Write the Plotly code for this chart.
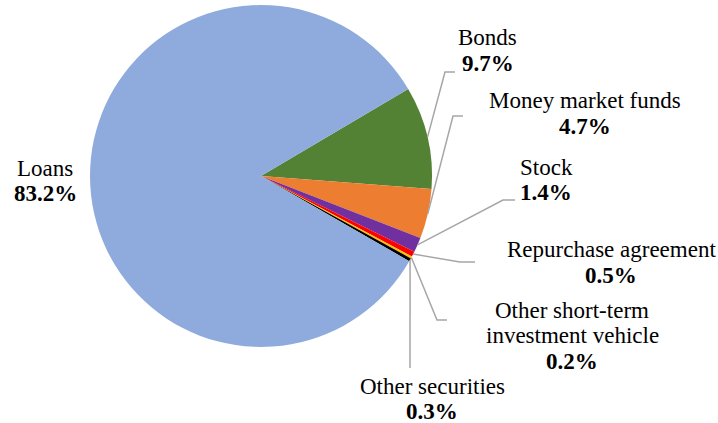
import math
import plotly.graph_objects as go

# Portfolio composition (percent)
categories = ["Bonds", "Money market funds", "Stock", "Repurchase agreement",
              "Other short-term investment vehicle", "Other securities", "Loans"]
values = [9.7, 4.7, 1.4, 0.5, 0.2, 0.3, 83.2]
colors = ["#548235", "#ED7D31", "#7030A0", "#FF0000", "#FFC000", "#000000", "#8FAADC"]

# Label text lines per category (name lines, then value line)
label_lines = {
    "Bonds": ["Bonds"],
    "Money market funds": ["Money market funds"],
    "Stock": ["Stock"],
    "Repurchase agreement": ["Repurchase agreement"],
    "Other short-term investment vehicle": ["Other short-term", "investment vehicle"],
    "Other securities": ["Other securities"],
    "Loans": ["Loans"],
}

W, H = 718, 423
CX, CY, R = 261, 176, 171
ROTATION = 59.4

# label anchor (center x, y of first line) in pixels
label_pos = {
    "Bonds": (488, 37.5),
    "Money market funds": (585, 100.5),
    "Stock": (546, 167),
    "Repurchase agreement": (611, 250),
    "Other short-term investment vehicle": (572, 310),
    "Other securities": (432, 386),
    "Loans": (45, 168),
}
# leader line elbow and end points in pixels
leader = {
    "Bonds": [(445, 72), (455, 72)],
    "Money market funds": [(453, 116), (463, 116)],
    "Stock": [(503, 200), (515, 200)],
    "Repurchase agreement": [(460, 262), (475, 262)],
    "Other short-term investment vehicle": [(437, 320), (447, 320)],
    "Other securities": [(410, 368)],
}
LINE_GAP = 25.7


def px(x, y):
    return x / W, 1 - y / H


fig = go.Figure()
fig.add_trace(go.Pie(
    labels=categories,
    values=values,
    sort=False,
    direction="clockwise",
    rotation=ROTATION,
    marker=dict(colors=colors, line=dict(width=0)),
    textinfo="none",
    hoverinfo="label+percent",
    showlegend=False,
    domain=dict(x=[(CX - R) / W, (CX + R) / W], y=[1 - (CY + R) / H, 1 - (CY - R) / H]),
))

annotations = []
shapes = []
total = sum(values)
cum = 0.0
for cat, v in zip(categories, values):
    mid = ROTATION + (cum + v / 2) / total * 360
    cum += v
    lx, ly = label_pos[cat]
    lines = label_lines[cat] + [f"<b>{v:.1f}%</b>"]
    for i, t in enumerate(lines):
        x, y = px(lx, ly + i * LINE_GAP)
        annotations.append(dict(x=x, y=y, xref="paper", yref="paper", text=t,
                                showarrow=False, xanchor="center", yanchor="middle",
                                font=dict(family="Liberation Serif", size=23, color="#000000")))
    if cat in leader:
        a = math.radians(mid)
        pts = [(CX + R * math.sin(a), CY - R * math.cos(a))] + leader[cat]
        path = "M " + " L ".join(f"{px(x, y)[0]},{px(x, y)[1]}" for x, y in pts)
        shapes.append(dict(type="path", path=path, xref="paper", yref="paper",
                           line=dict(color="#A6A6A6", width=1.5)))

fig.update_layout(
    width=W, height=H,
    margin=dict(l=0, r=0, t=0, b=0),
    paper_bgcolor="white",
    plot_bgcolor="white",
    annotations=annotations,
    shapes=shapes,
)

fig.write_html("out.html")
